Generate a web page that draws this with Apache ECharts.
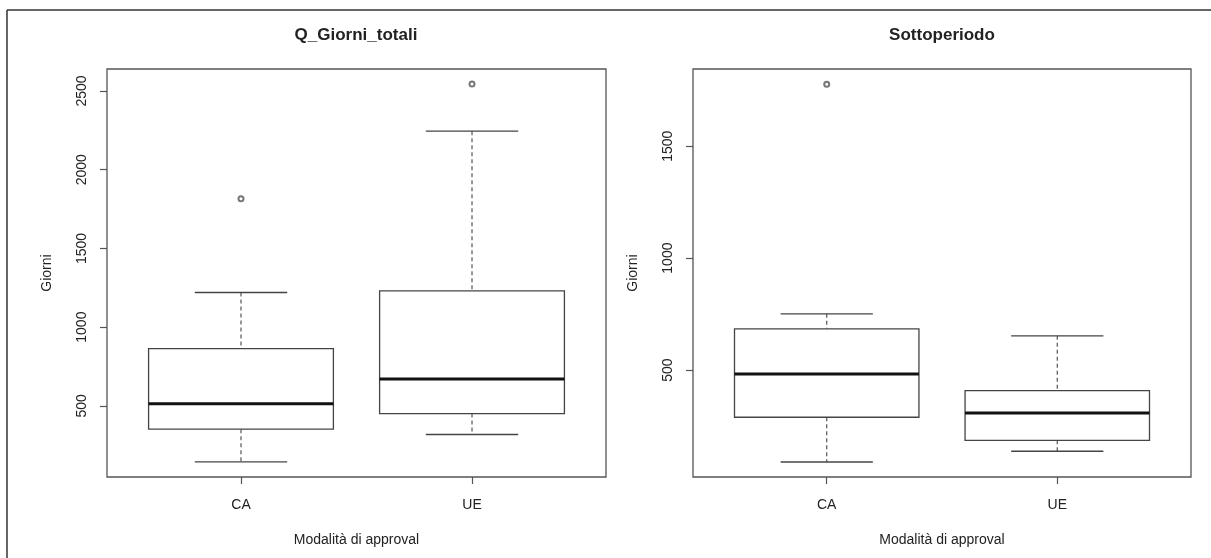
<!DOCTYPE html>
<html>
<head>
<meta charset="utf-8">
<title>Giorni per modalità di approvazione</title>
<script src="https://cdn.jsdelivr.net/npm/echarts@6.0.0/dist/echarts.min.js"></script>
<style>
  html, body { margin: 0; padding: 0; background: #fff; }
  #chart { width: 1211px; height: 558px; }
</style>
</head>
<body>
<div id="chart"></div>
<script>
// categorie (posizioni 1 e 2 sull'asse x)
const categories = ['CA', 'UE']

// [min, Q1, mediana, Q3, max]
const totaliStats = [
  [144, 352, 513, 863, 1220],
  [318, 451, 671, 1230, 2245]
]
const totaliOutliers = [[1, 1815], [2, 2544]]

const sottoStats = [
  [89, 289, 482, 684, 751],
  [137, 186, 308, 408, 653]
]
const sottoOutliers = [[1, 1777]]

// tick dell'asse y
const totaliTicks = [500, 1000, 1500, 2000, 2500]
const sottoTicks = [500, 1000, 1500]

const textColor = '#222'
const lineColor = '#555'
const fontFamily = '"Liberation Sans", Arial, sans-serif'

const chart = echarts.init(document.getElementById('chart'))

// box in stile R: scatola, mediana spessa, baffi tratteggiati
function renderBox(params, api){
  const x = api.value(0)
  const min = api.value(1), q1 = api.value(2), med = api.value(3), q3 = api.value(4), max = api.value(5)
  const half = 0.4, staple = 0.2
  const tl = api.coord([x - half, q3])
  const br = api.coord([x + half, q1])
  const mL = api.coord([x - half, med])
  const mR = api.coord([x + half, med])
  const top = api.coord([x, max])
  const bot = api.coord([x, min])
  const q3p = api.coord([x, q3])
  const q1p = api.coord([x, q1])
  const sTL = api.coord([x - staple, max])
  const sTR = api.coord([x + staple, max])
  const sBL = api.coord([x - staple, min])
  const sBR = api.coord([x + staple, min])
  const solid = { stroke: '#444', lineWidth: 1.3, fill: null }
  const dashed = { stroke: '#555', lineWidth: 1.2, lineDash: [4, 3] }
  return {
    type: 'group',
    children: [
      { type: 'line', shape: { x1: top[0], y1: top[1], x2: q3p[0], y2: q3p[1] }, style: dashed },
      { type: 'line', shape: { x1: q1p[0], y1: q1p[1], x2: bot[0], y2: bot[1] }, style: dashed },
      { type: 'line', shape: { x1: sTL[0], y1: sTL[1], x2: sTR[0], y2: sTR[1] }, style: solid },
      { type: 'line', shape: { x1: sBL[0], y1: sBL[1], x2: sBR[0], y2: sBR[1] }, style: solid },
      { type: 'rect', shape: { x: tl[0], y: tl[1], width: br[0] - tl[0], height: br[1] - tl[1] },
        style: { stroke: '#444', lineWidth: 1.3, fill: '#fff' } },
      { type: 'line', shape: { x1: mL[0], y1: mL[1], x2: mR[0], y2: mR[1] },
        style: { stroke: '#111', lineWidth: 3 } }
    ]
  }
}

function xAxisFor(gridIndex){
  return {
    type: 'value',
    gridIndex: gridIndex,
    min: 0.42,
    max: 2.58,
    name: 'Modalità di approval',
    nameLocation: 'middle',
    nameGap: 56,
    nameTextStyle: { color: textColor, fontSize: 14, fontFamily: fontFamily },
    axisLine: { show: false },
    splitLine: { show: false },
    axisTick: { show: true, length: 7, customValues: [1, 2], lineStyle: { color: lineColor, width: 1.2 } },
    axisLabel: {
      customValues: [1, 2],
      margin: 21,
      color: textColor,
      fontSize: 14,
      fontFamily: fontFamily,
      formatter: v => categories[Math.round(v) - 1]
    }
  }
}

function yAxisFor(gridIndex, min, max, ticks){
  return {
    type: 'value',
    gridIndex: gridIndex,
    min: min,
    max: max,
    name: 'Giorni',
    nameLocation: 'middle',
    nameRotate: 90,
    nameGap: 53,
    nameTextStyle: { color: textColor, fontSize: 14, fontFamily: fontFamily },
    axisLine: { show: false },
    splitLine: { show: false },
    axisTick: { show: true, length: 7, customValues: ticks, lineStyle: { color: lineColor, width: 1.2 } },
    axisLabel: {
      customValues: ticks,
      rotate: 90,
      margin: 18,
      color: textColor,
      fontSize: 14,
      fontFamily: fontFamily,
      formatter: v => String(v)
    }
  }
}

const titleStyle = { color: textColor, fontSize: 17, fontWeight: 'bold', fontFamily: fontFamily }

const option = {
  animation: false,
  backgroundColor: '#fff',
  title: [
    { text: 'Q_Giorni_totali', left: 356, top: 27, padding: 0, textAlign: 'center', textStyle: titleStyle },
    { text: 'Sottoperiodo', left: 942, top: 27, padding: 0, textAlign: 'center', textStyle: titleStyle }
  ],
  grid: [
    { left: 107, right: 605, top: 69, bottom: 81, show: true, borderColor: lineColor, borderWidth: 1.3 },
    { left: 693, right: 20, top: 69, bottom: 81, show: true, borderColor: lineColor, borderWidth: 1.3 }
  ],
  xAxis: [xAxisFor(0), xAxisFor(1)],
  yAxis: [
    yAxisFor(0, 48, 2640, totaliTicks),
    yAxisFor(1, 22, 1845, sottoTicks)
  ],
  series: [
    {
      type: 'custom',
      xAxisIndex: 0, yAxisIndex: 0,
      renderItem: renderBox,
      encode: { x: 0, y: [1, 2, 3, 4, 5] },
      data: totaliStats.map((s, i) => [i + 1].concat(s))
    },
    {
      type: 'scatter',
      xAxisIndex: 0, yAxisIndex: 0,
      symbol: 'emptyCircle',
      symbolSize: 5,
      itemStyle: { color: '#555', borderWidth: 1 },
      data: totaliOutliers
    },
    {
      type: 'custom',
      xAxisIndex: 1, yAxisIndex: 1,
      renderItem: renderBox,
      encode: { x: 0, y: [1, 2, 3, 4, 5] },
      data: sottoStats.map((s, i) => [i + 1].concat(s))
    },
    {
      type: 'scatter',
      xAxisIndex: 1, yAxisIndex: 1,
      symbol: 'emptyCircle',
      symbolSize: 5,
      itemStyle: { color: '#555', borderWidth: 1 },
      data: sottoOutliers
    }
  ],
  // cornice esterna (bordo in alto e a sinistra)
  graphic: [
    { type: 'line', shape: { x1: 7, y1: 10, x2: 1211, y2: 10 }, style: { stroke: '#333', lineWidth: 1.5 } },
    { type: 'line', shape: { x1: 7, y1: 10, x2: 7, y2: 558 }, style: { stroke: '#333', lineWidth: 1.5 } }
  ]
}

chart.setOption(option)
</script>
</body>
</html>
